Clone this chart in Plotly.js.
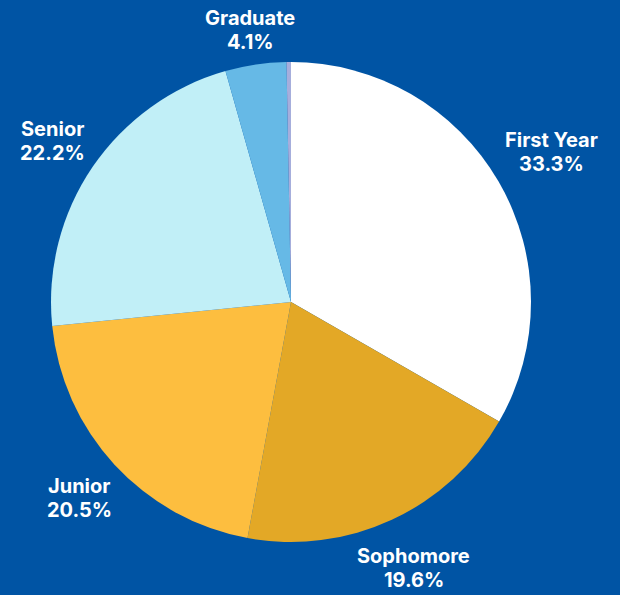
<!DOCTYPE html>
<html>
<head>
<meta charset="utf-8">
<script src="https://cdn.plot.ly/plotly-3.0.1.min.js"></script>
<style>html,body{margin:0;padding:0;background:#0054a4;}#chart{width:620px;height:595px;}</style>
</head>
<body>
<div id="chart"></div>
<script>
const labels = ["First Year", "Sophomore", "Junior", "Senior", "Graduate", "Other"];
const values = [33.3, 19.6, 20.5, 22.2, 4.1, 0.3];
const colors = ["#ffffff", "#e3a826", "#fdbe3f", "#c1eff7", "#66b9e6", "#a6aedc"];
const showLabel = [true, true, true, true, true, false];

const FONT_FAMILY = "Inter, 'Noto Sans', sans-serif";
const FONT_SIZE = 20;
const W = 620, H = 595;
const M = { l: 51, r: 89, t: 62, b: 53 };
const plotW = W - M.l - M.r, plotH = H - M.t - M.b;
const R = Math.min(plotW, plotH) / 2;

// measure text widths to place labels just outside the pie
const ctx = document.createElement("canvas").getContext("2d");
ctx.font = "700 " + FONT_SIZE + "px Inter, 'Noto Sans', sans-serif";
const total = values.reduce((a, b) => a + b, 0);

const annotations = [];
let cum = 0;
values.forEach((v, i) => {
  const mid = (cum + v / 2) / total * 2 * Math.PI;
  cum += v;
  if (!showLabel[i]) return;
  const pct = (v / total * 100).toFixed(1) + "%";
  const hw = Math.max(ctx.measureText(labels[i]).width, ctx.measureText(pct).width) / 2;
  const s = Math.sin(mid), c = Math.cos(mid);
  const d = R + 11 + hw * Math.abs(s) + 19 * Math.abs(c);
  const x = 0.5 + d * s / plotW;
  const y = 0.5 + d * c / plotH;
  const font = { color: "#ffffff", size: FONT_SIZE, family: FONT_FAMILY, weight: 700 };
  annotations.push({ xref: "paper", yref: "paper", x: x, y: y + 11 / plotH, text: labels[i],
    showarrow: false, xanchor: "center", yanchor: "middle", font: font });
  annotations.push({ xref: "paper", yref: "paper", x: x, y: y - 13 / plotH, text: pct,
    showarrow: false, xanchor: "center", yanchor: "middle", font: font });
});

const trace = {
  type: "pie",
  labels: labels,
  values: values,
  sort: false,
  direction: "clockwise",
  rotation: 0,
  marker: { colors: colors, line: { width: 0 } },
  textinfo: "none",
  hoverinfo: "label+percent",
  showlegend: false
};

const layout = {
  width: W,
  height: H,
  paper_bgcolor: "#0054a4",
  plot_bgcolor: "#0054a4",
  margin: M,
  showlegend: false,
  annotations: annotations
};

Plotly.newPlot("chart", [trace], layout, { displayModeBar: false, staticPlot: true });
</script>
</body>
</html>
